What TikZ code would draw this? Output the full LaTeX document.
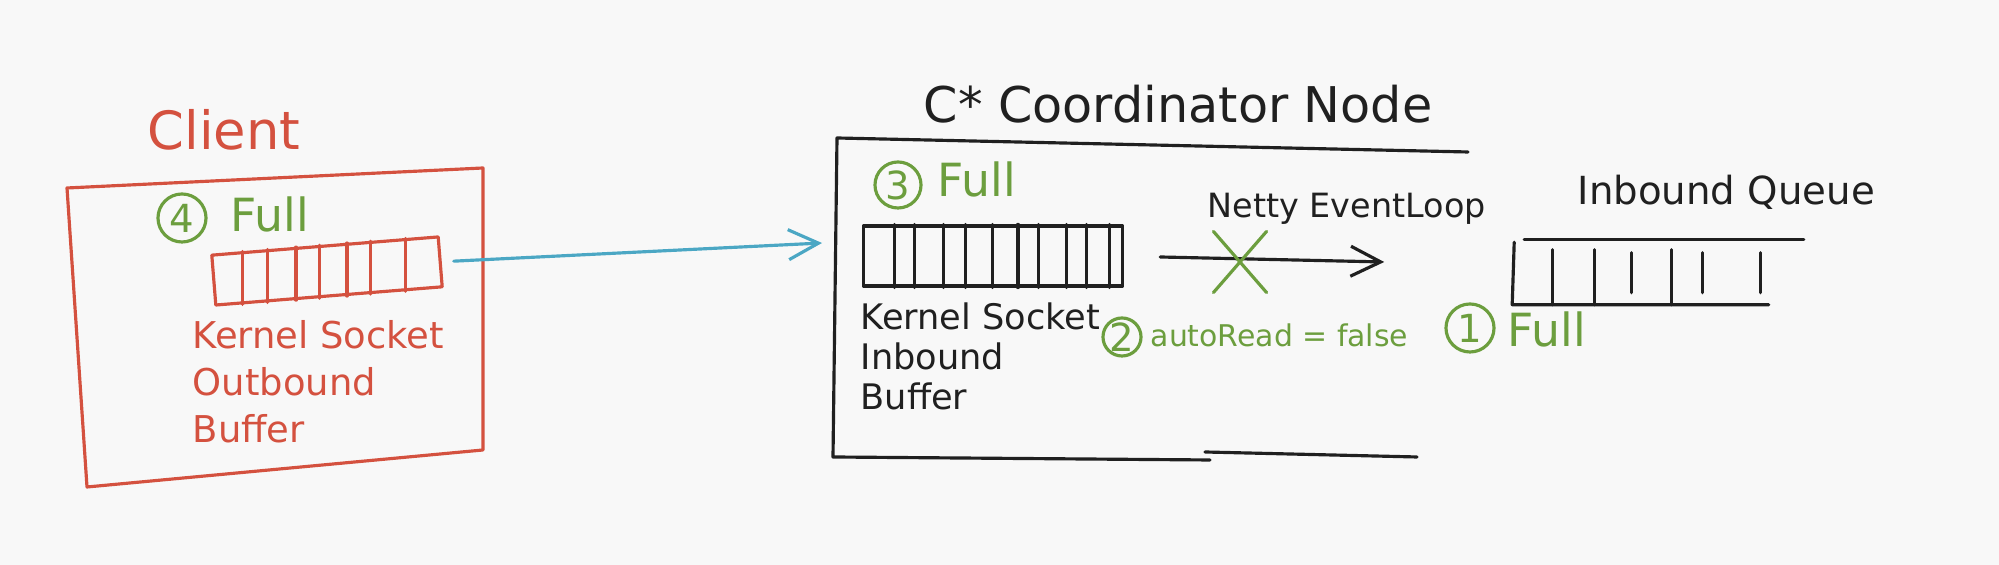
\documentclass[tikz,border=0pt]{standalone}
\usepackage{fontspec}
\setmainfont{DejaVu Sans}
\usetikzlibrary{arrows.meta,calc,shapes.misc}

\definecolor{penred}{HTML}{D4513F}
\definecolor{pengreen}{HTML}{6C9E3E}
\definecolor{penblue}{HTML}{4BA7C4}
\definecolor{penblack}{HTML}{202020}
\definecolor{paper}{HTML}{F8F8F8}

\tikzset{
  pen/.style={line width=0.9pt, line cap=round, line join=round},
  txt/.style={inner sep=0pt, anchor=base west},
  numring/.style={circle, draw=pengreen, text=pengreen, pen, inner sep=0pt, font=\fontsize{11}{11}\selectfont},
  bufbox/.style={draw, pen, inner sep=0pt},
  barb/.style={-{Straight Barb[length=3mm,width=3mm]}},
}

\begin{document}
\begin{tikzpicture}[x=0.01cm, y=-0.01cm]
\fill[paper] (0,0) rectangle (1999,565);
\useasboundingbox (0,0) rectangle (1999,565);

%%% client
\draw[pen, penred] (67,188) -- (483,168) -- (483,450) -- (87,487) -- cycle;
\node[txt, text=penred, font=\fontsize{15}{15}\selectfont] (client) at (147,150) {Client};
\node[numring, minimum size=0.48cm] (four) at (182,218) {4};
\node[txt, text=pengreen, font=\fontsize{13}{13}\selectfont] (fullc) at (230,232) {Full};
\node[bufbox, draw=penred, rotate=4.6, minimum width=2.27cm, minimum height=0.5cm] (outbuf) at (327,271) {};
\foreach \f in {0.124,0.231,0.356,0.458,0.578,0.68,0.831}{
  \coordinate (bot) at ($(outbuf.south west)!\f!(outbuf.south east)$);
  \coordinate (top) at ($(outbuf.north west)!\f!(outbuf.north east)$);
  \draw[pen, penred] (bot) -- (bot |- top);
}
\node[txt, anchor=north west, align=left, text=penred, font=\fontsize{10.5}{13.3}\selectfont] (outlbl) at (192,320) {Kernel Socket\\Outbound\\Buffer};

%%% coordinator node
\node[txt, text=penblack, font=\fontsize{14}{14}\selectfont] (title) at (923,123) {C* Coordinator Node};
\draw[pen, penblack] (1468,152) -- (837,138) -- (833,457) -- (1210,460);
\draw[pen, penblack] (1205,452) -- (1417,457);
\node[numring, minimum size=0.46cm] (three) at (898,185) {3};
\node[txt, text=pengreen, font=\fontsize{13}{13}\selectfont] (fullk) at (937,197) {Full};
\node[bufbox, draw=penblack, minimum width=2.59cm, minimum height=0.6cm] (inbuf) at (993,256) {};
\foreach \f in {0.124,0.2,0.31,0.394,0.498,0.595,0.672,0.78,0.857,0.945}
  \draw[pen, penblack] ($(inbuf.south west)!\f!(inbuf.south east)$) -- ($(inbuf.north west)!\f!(inbuf.north east)$);
\node[txt, anchor=north west, align=left, text=penblack, font=\fontsize{10}{11.4}\selectfont] (inlbl) at (860,302) {Kernel Socket\\Inbound\\Buffer};

%%% inbound queue
\node[txt, text=penblack, font=\fontsize{11}{11}\selectfont] (qlbl) at (1577,205) {Inbound Queue};
\node[minimum width=2.9cm, minimum height=0.64cm, inner sep=0pt] (inq) at (1658,272) {};
\draw[pen, penblack] ($(inq.north west)+(12,0)$) -- (inq.north east);
\draw[pen, penblack] ($(inq.north west)+(2,3)$) -- (inq.south west) -- ($(inq.south west)!0.88!(inq.south east)$);
\foreach \f in {0.138,0.283,0.545}
  \draw[pen, penblack] ($(inq.south west)!\f!(inq.south east)$) -- ++(0,-55);
\foreach \f in {0.41,0.652,0.852}
  \draw[pen, penblack] ($(inq.south west)!\f!(inq.south east)+(0,-12)$) -- ++(0,-40);

%%% event loop
\node[txt, text=penblack, font=\fontsize{9.5}{9.5}\selectfont] (loop) at (1207,218) {Netty EventLoop};
\draw[pen, penblack, barb] ($(inbuf.east)+(36,1)$) -- ($(inq.west)+(-128,-10)$);
\node[cross out, draw=pengreen, pen, minimum width=0.5cm, minimum height=0.58cm, inner sep=0pt] (stop) at (1240,262) {};
\node[numring, minimum size=0.38cm] (two) at (1122,337) {2};
\node[txt, text=pengreen, font=\fontsize{8.5}{8.5}\selectfont] (autoread) at (1150,347) {autoRead = false};
\node[numring, minimum size=0.48cm] (one) at (1470,328) {1};
\node[txt, text=pengreen, font=\fontsize{13}{13}\selectfont] (fullq) at (1507,347) {Full};

%%% client -> coordinator
\coordinate (tip) at (822,243);
\draw[pen, penblue, barb, shorten <=0.12cm] (outbuf.east) -- (tip);
\end{tikzpicture}
\end{document}
